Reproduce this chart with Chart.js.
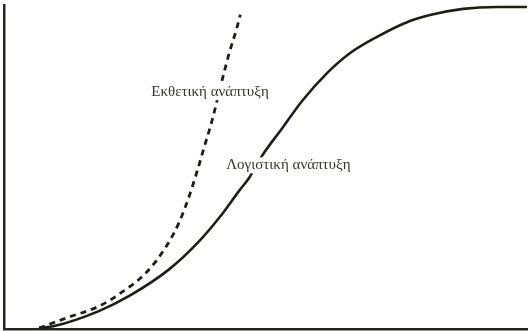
<!DOCTYPE html>
<html>
<head>
<meta charset="utf-8">
<script src="https://cdn.jsdelivr.net/npm/chart.js@4"></script>
<style>
  html,body{margin:0;padding:0;background:#fff;}
  #wrap{width:528px;height:331px;position:relative;}
</style>
</head>
<body>
<div id="wrap"><canvas id="c" width="528" height="331"></canvas></div>
<script>
// Time (x) and population size (y)
const logisticX = [6.7, 9.6, 18.2, 23.9, 31.5, 37.3, 41.1, 44.9, 46.8, 49.3, 53.2, 57.0, 61.6, 66.0, 71.1, 76.9, 81.3, 87.6, 94.1, 99.8];
const logisticY = [0.3, 0.9, 5.6, 10.2, 18.4, 27.2, 34.4, 42.7, 46.7, 53.6, 62.2, 70.6, 78.9, 85.1, 90.1, 94.7, 96.9, 98.8, 99.4, 99.4];
const expX = [6.7, 11.9, 18.2, 22.0, 27.2, 31.0, 33.5, 35.4, 36.9, 38.2, 39.6, 41.7, 43.0, 44.4, 45.1];
const expY = [0.3, 3.4, 7.1, 10.8, 17.5, 25.6, 33.2, 41.3, 48.9, 56.1, 63.7, 77.3, 85.3, 92.7, 97.0];
const labelTexts = ['Εκθετική ανάπτυξη', 'Λογιστική ανάπτυξη'];
const labelAnchors = [[28.1, 73.1], [42.4, 50.5]]; // left edge x, middle y (data units)

const toPts = (xs, ys) => xs.map((x, i) => ({x: x, y: ys[i]}));

const labelPlugin = {
  id: 'curveLabels',
  afterDatasetsDraw(chart) {
    const ctx = chart.ctx, xs = chart.scales.x, ys = chart.scales.y;
    ctx.save();
    ctx.font = '15px "Liberation Serif", "DejaVu Serif", serif';
    ctx.textBaseline = 'middle';
    labelTexts.forEach((t, i) => {
      const px = xs.getPixelForValue(labelAnchors[i][0]);
      const py = ys.getPixelForValue(labelAnchors[i][1]);
      const w = ctx.measureText(t).width;
      ctx.fillStyle = '#ffffff';
      ctx.fillRect(px - 2, py - 8, w + 4, 16);
      ctx.fillStyle = '#34342e';
      ctx.fillText(t, px, py);
    });
    ctx.restore();
  }
};

new Chart(document.getElementById('c'), {
  type: 'line',
  data: {
    datasets: [
      {
        label: labelTexts[1],
        data: toPts(logisticX, logisticY),
        borderColor: '#1e1e18',
        borderWidth: 2.6,
        pointRadius: 0,
        cubicInterpolationMode: 'monotone',
        fill: false
      },
      {
        label: labelTexts[0],
        data: toPts(expX, expY),
        borderColor: '#1e1e18',
        borderWidth: 2.8,
        borderDash: [6, 5],
        pointRadius: 0,
        cubicInterpolationMode: 'monotone',
        fill: false
      }
    ]
  },
  options: {
    responsive: false,
    animation: false,
    layout: {padding: {left: 4, top: 5, right: 0, bottom: 2}},
    plugins: {legend: {display: false}, tooltip: {enabled: false}},
    scales: {
      x: {
        type: 'linear', min: 0, max: 100,
        grid: {display: false, drawTicks: false},
        ticks: {display: false},
        border: {display: true, color: '#262620', width: 2.5}
      },
      y: {
        type: 'linear', min: 0, max: 100,
        grid: {display: false, drawTicks: false},
        ticks: {display: false},
        border: {display: true, color: '#262620', width: 2.5}
      }
    }
  },
  plugins: [labelPlugin]
});
</script>
</body>
</html>
